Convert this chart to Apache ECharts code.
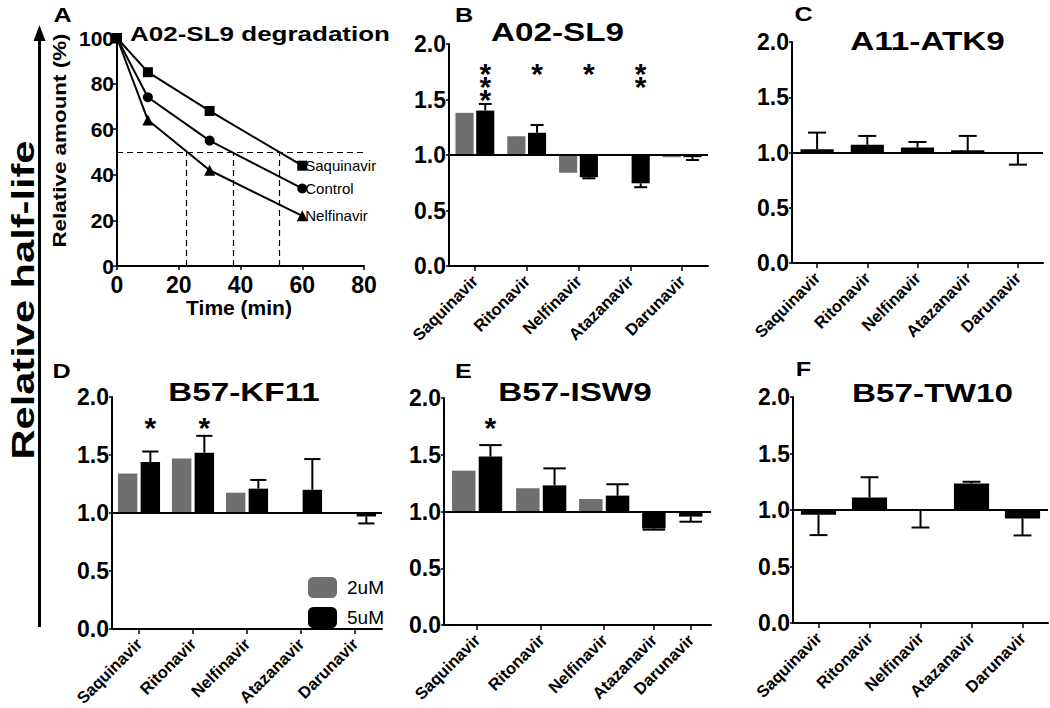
<!DOCTYPE html>
<html>
<head>
<meta charset="utf-8">
<script src="https://cdn.jsdelivr.net/npm/echarts@6/dist/echarts.min.js"></script>
<style>
  html, body { margin: 0; background: #fff; }
  #chart { width: 1050px; height: 708px; }
</style>
</head>
<body>
<div id="chart"></div>
<script>
const FONT = '"Liberation Sans", Arial, sans-serif';

// A: degradation time course (% remaining)
const timePoints = [0, 10, 30, 60];
const saquinavirPct = [100, 85, 68, 44];
const controlPct = [100, 74, 55, 34];
const nelfinavirPct = [100, 64, 42, 22];
const halfLives = [22.5, 37.5, 52.5];

const drugs = ['Saquinavir', 'Ritonavir', 'Nelfinavir', 'Atazanavir', 'Darunavir'];

// B-F: relative half-life, 2uM (grey) / 5uM (black), error = SEM of 5uM
const b2uM = [1.38, 1.17, 0.84, null, 0.98];
const b5uM = [1.40, 1.20, 0.80, 0.745, 0.98];
const b5uMErr = [0.06, 0.07, 0.01, 0.035, 0.025];
const bStars = ['***', '*', '*', '**', ''];

const c5uM = [1.03, 1.07, 1.045, 1.02, 0.99];
const c5uMErr = [0.15, 0.08, 0.05, 0.13, 0.10];

const d2uM = [1.34, 1.47, 1.175, null, null];
const d5uM = [1.44, 1.52, 1.21, 1.20, 0.97];
const d5uMErr = [0.09, 0.145, 0.075, 0.265, 0.06];
const dStars = ['*', '*', '', '', ''];

const e2uM = [1.36, 1.205, 1.11, null, null];
const e5uM = [1.485, 1.23, 1.14, 0.85, 0.955];
const e5uMErr = [0.10, 0.15, 0.10, 0.01, 0.045];
const eStars = ['*', '', '', '', ''];

const f5uM = [0.958, 1.11, 0.995, 1.235, 0.925];
const f5uMErr = [0.18, 0.18, 0.15, 0.015, 0.15];

const evenPos = [0.5, 1.5, 2.5, 3.5, 4.5];
const ePos = [0.62, 1.82, 3.0, 3.93, 4.62];

const GREY = '#6f6f6f';
const STAR_Y = 1.8;

const panels = [
  { title: 'A02-SL9', grid: { left: 449, top: 44, width: 259, height: 222 }, pos: evenPos,
    low: b2uM, high: b5uM, err: b5uMErr, stars: bStars, barW: 0.35, off: 0.2, capW: 0.25 },
  { title: 'A11-ATK9', grid: { left: 792, top: 42, width: 251, height: 221 }, pos: evenPos,
    low: null, high: c5uM, err: c5uMErr, stars: null, barW: 0.66, off: 0, capW: 0.36 },
  { title: 'B57-KF11', grid: { left: 112, top: 397, width: 270, height: 232 }, pos: evenPos,
    low: d2uM, high: d5uM, err: d5uMErr, stars: dStars, barW: 0.36, off: 0.21, capW: 0.3 },
  { title: 'B57-ISW9', grid: { left: 444, top: 398, width: 267, height: 227 }, pos: ePos,
    low: e2uM, high: e5uM, err: e5uMErr, stars: eStars, barW: 0.44, off: 0.25, capW: 0.42, soloCenter: true },
  { title: 'B57-TW10', grid: { left: 793, top: 397, width: 255, height: 226 }, pos: evenPos,
    low: null, high: f5uM, err: f5uMErr, stars: null, barW: 0.69, off: 0, capW: 0.35 }
];

const axisLine = { show: true, lineStyle: { color: '#000', width: 2 } };
const tickStyle = { color: '#000', width: 1.5 };

const grids = [{ left: 117, top: 38, width: 247, height: 228 }];
const xAxes = [{
  type: 'value', gridIndex: 0, min: 0, max: 80, interval: 20,
  axisLine, axisTick: { show: true, length: 4, lineStyle: tickStyle },
  axisLabel: { fontSize: 23, fontWeight: 'bold', color: '#000', fontFamily: FONT, margin: 7 },
  splitLine: { show: false }
}];
const yAxes = [{
  type: 'value', gridIndex: 0, min: 0, max: 100, interval: 20,
  axisLine, axisTick: { show: true, length: 4, lineStyle: tickStyle },
  axisLabel: { fontSize: 21, fontWeight: 'bold', color: '#000', fontFamily: FONT, margin: 3 },
  splitLine: { show: false }
}];

const endLabel = { show: true, formatter: '{a}', fontSize: 15, color: '#000', fontFamily: FONT, distance: 3 };
const series = [
  { type: 'line', name: 'Saquinavir', xAxisIndex: 0, yAxisIndex: 0, symbol: 'rect', symbolSize: 10,
    data: timePoints.map((t, i) => [t, saquinavirPct[i]]),
    lineStyle: { color: '#000', width: 2 }, itemStyle: { color: '#000' }, endLabel },
  { type: 'line', name: 'Control', xAxisIndex: 0, yAxisIndex: 0, symbol: 'circle', symbolSize: 10,
    data: timePoints.map((t, i) => [t, controlPct[i]]),
    lineStyle: { color: '#000', width: 2 }, itemStyle: { color: '#000' }, endLabel,
    markLine: {
      silent: true, symbol: 'none', label: { show: false },
      lineStyle: { type: [6, 4], color: '#000', width: 1.2 },
      data: [[{ coord: [0, 50] }, { coord: [80, 50] }]]
        .concat(halfLives.map(t => [{ coord: [t, 0] }, { coord: [t, 50] }]))
    } },
  { type: 'line', name: 'Nelfinavir', xAxisIndex: 0, yAxisIndex: 0, symbol: 'triangle', symbolSize: 11,
    data: timePoints.map((t, i) => [t, nelfinavirPct[i]]),
    lineStyle: { color: '#000', width: 2 }, itemStyle: { color: '#000' }, endLabel }
];

function barRenderer(p, isLow) {
  return function (params, api) {
    const i = params.dataIndex;
    const x = api.value(0), v = api.value(1), e = api.value(2);
    if (v == null || isNaN(v)) return null;
    let off = p.off ? (isLow ? -p.off : p.off) : 0;
    if (!isLow && p.soloCenter && p.low && p.low[i] == null) off = 0;
    const a = api.coord([x + off, 1]);
    const b = api.coord([x + off, v]);
    const w = api.size([p.barW, 0])[0];
    const children = [{
      type: 'rect',
      shape: { x: a[0] - w / 2, y: Math.min(a[1], b[1]), width: w, height: Math.abs(b[1] - a[1]) },
      style: { fill: isLow ? GREY : '#000' }
    }];
    if (e && !isNaN(e)) {
      const c = api.coord([x + off, v >= 1 ? v + e : v - e]);
      const cw = api.size([p.capW, 0])[0];
      const ls = { stroke: '#000', lineWidth: 2 };
      children.push({ type: 'line', shape: { x1: b[0], y1: b[1], x2: c[0], y2: c[1] }, style: ls });
      children.push({ type: 'line', shape: { x1: c[0] - cw / 2, y1: c[1], x2: c[0] + cw / 2, y2: c[1] }, style: ls });
    }
    return { type: 'group', children };
  };
}

// significance stars, stacked vertically above the 5uM bar
function starRenderer(p) {
  return function (params, api) {
    const s = p.stars[params.dataIndex];
    if (!s) return null;
    const pt = api.coord([api.value(0) + p.off, STAR_Y]);
    const n = s.length;
    return {
      type: 'text',
      style: {
        text: s.split('').join('\n'), x: pt[0], y: pt[1] + 7 + 13 * (n - 1) / 2,
        lineHeight: 13, fill: '#000', font: `bold 30px ${FONT}`,
        align: 'center', verticalAlign: 'middle', textAlign: 'center', textVerticalAlign: 'middle'
      }
    };
  };
}

panels.forEach((p, k) => {
  const g = k + 1;
  grids.push(p.grid);
  xAxes.push({
    type: 'value', gridIndex: g, min: 0, max: 5,
    axisLine,
    axisTick: { show: true, customValues: p.pos, length: 5, lineStyle: tickStyle },
    axisLabel: {
      customValues: p.pos, rotate: 45, margin: 12,
      formatter: v => {
        let best = 0;
        p.pos.forEach((q, j) => { if (Math.abs(q - v) < Math.abs(p.pos[best] - v)) best = j; });
        return drugs[best];
      },
      fontSize: 16.5, fontWeight: 'bold', color: '#000', fontFamily: FONT
    },
    splitLine: { show: false }
  });
  yAxes.push({
    type: 'value', gridIndex: g, min: 0, max: 2, interval: 0.5,
    axisLine, axisTick: { show: true, length: 3, lineStyle: tickStyle },
    axisLabel: { formatter: v => v.toFixed(1), fontSize: 23, fontWeight: 'bold', color: '#000', fontFamily: FONT, margin: 3 },
    splitLine: { show: false }
  });
  if (p.low) {
    series.push({
      type: 'custom', name: '2uM', xAxisIndex: g, yAxisIndex: g, silent: true,
      itemStyle: { color: GREY },
      renderItem: barRenderer(p, true),
      encode: { x: 0, y: 1 },
      data: p.pos.map((x, i) => [x, p.low[i], null])
    });
  }
  series.push({
    type: 'custom', name: '5uM', xAxisIndex: g, yAxisIndex: g, silent: true,
    itemStyle: { color: '#000' },
    renderItem: barRenderer(p, false),
    encode: { x: 0, y: 1 },
    data: p.pos.map((x, i) => [x, p.high[i], p.err[i]]),
    markLine: {
      silent: true, symbol: 'none', label: { show: false },
      lineStyle: { type: 'solid', color: '#000', width: 2 },
      data: [{ yAxis: 1 }]
    }
  });
  if (p.stars) {
    series.push({
      type: 'custom', name: 'stars', xAxisIndex: g, yAxisIndex: g, silent: true,
      renderItem: starRenderer(p),
      encode: { x: 0 },
      data: p.pos.map(x => [x])
    });
  }
});

function txt(text, x, y, size, opts) {
  opts = opts || {};
  return {
    type: 'text', x, y, rotation: opts.rot || 0, scaleX: opts.sx || 1, silent: true,
    style: {
      text, fill: '#000', font: `${opts.weight || 'bold'} ${size}px ${FONT}`,
      align: 'center', verticalAlign: 'middle', textAlign: 'center', textVerticalAlign: 'middle'
    }
  };
}

const graphic = [
  txt('A', 62.5, 14.5, 21, { sx: 1.2 }),
  txt('B', 464, 14.5, 21, { sx: 1.2 }),
  txt('C', 803.5, 13.5, 21, { sx: 1.2 }),
  txt('D', 61.5, 370.5, 21, { sx: 1.2 }),
  txt('E', 463.5, 370.5, 21, { sx: 1.2 }),
  txt('F', 803.5, 369, 21, { sx: 1.2 }),
  txt('A02-SL9 degradation', 260, 34, 20, { sx: 1.3 }),
  txt(panels[0].title, 557.5, 32, 26, { sx: 1.28 }),
  txt(panels[1].title, 927.5, 41, 26, { sx: 1.28 }),
  txt(panels[2].title, 244, 391.7, 26, { sx: 1.28 }),
  txt(panels[3].title, 575, 392, 26, { sx: 1.28 }),
  txt(panels[4].title, 932.5, 393, 26, { sx: 1.28 }),
  txt('Relative amount (%)', 59, 140.5, 19, { rot: Math.PI / 2, sx: 1.18 }),
  txt('Time (min)', 239, 307, 21),
  txt('Relative half-life', 22.5, 300, 32, { rot: Math.PI / 2, sx: 1.3 }),
  { type: 'line', silent: true, shape: { x1: 39.5, y1: 38, x2: 39.5, y2: 627 }, style: { stroke: '#000', lineWidth: 3 } },
  { type: 'polygon', silent: true, shape: { points: [[39.5, 25], [33.5, 41], [45.5, 41]] }, style: { fill: '#000' } }
];

const chart = echarts.init(document.getElementById('chart'), null, { renderer: 'svg' });
chart.setOption({
  animation: false,
  backgroundColor: '#fff',
  textStyle: { fontFamily: FONT },
  grid: grids.map(g => Object.assign({ containLabel: false, outerBoundsMode: 'none' }, g)),
  xAxis: xAxes,
  yAxis: yAxes,
  legend: {
    data: ['2uM', '5uM'], orient: 'vertical', left: 303, top: 572,
    itemWidth: 29, itemHeight: 21, itemGap: 9, icon: 'roundRect', selectedMode: false,
    textStyle: { fontSize: 19, color: '#000', fontFamily: FONT, padding: [0, 0, 0, 5] }
  },
  series,
  graphic
});
</script>
</body>
</html>
